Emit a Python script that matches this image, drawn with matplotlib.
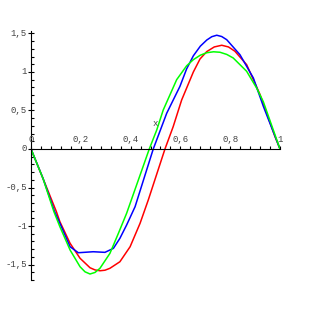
import matplotlib
matplotlib.use("Agg")
import matplotlib.pyplot as plt
import numpy as np

# curve samples
blue_x = [0, 0.048, 0.095, 0.116, 0.157, 0.190, 0.250, 0.297, 0.331, 0.357, 0.384, 0.418,
          0.491, 0.545, 0.598, 0.625, 0.652, 0.680, 0.706, 0.726, 0.746, 0.766, 0.786, 0.839, 0.893, 0.933, 1.0]
blue_y = [0, -0.38, -0.814, -0.965, -1.269, -1.347, -1.334, -1.342, -1.290, -1.160, -0.987, -0.749,
          0.0, 0.464, 0.812, 1.040, 1.210, 1.335, 1.415, 1.458, 1.477, 1.460, 1.419, 1.225, 0.922, 0.555, 0.0]

red_x = [0, 0.048, 0.102, 0.116, 0.157, 0.197, 0.237, 0.257, 0.277, 0.297, 0.317, 0.357, 0.398, 0.438, 0.471,
         0.538, 0.571, 0.605, 0.652, 0.679, 0.706, 0.736, 0.766, 0.793, 0.819, 0.866, 0.920, 0.980, 1.0]
red_y = [0, -0.381, -0.814, -0.944, -1.225, -1.419, -1.542, -1.570, -1.581, -1.574, -1.549, -1.464, -1.269, -0.965, -0.662,
         0.0, 0.29, 0.636, 1.000, 1.170, 1.265, 1.325, 1.347, 1.325, 1.269, 1.095, 0.705, 0.16, 0.0]

green_x = [0, 0.048, 0.092, 0.116, 0.157, 0.197, 0.217, 0.237, 0.257, 0.277, 0.317, 0.351, 0.384, 0.475,
           0.505, 0.531, 0.585, 0.625, 0.652, 0.680, 0.706, 0.733, 0.759, 0.786, 0.812, 0.866, 0.906, 0.933, 1.0]
green_y = [0, -0.381, -0.814, -1.009, -1.312, -1.529, -1.595, -1.623, -1.603, -1.549, -1.355, -1.095, -0.835, 0.0,
           0.247, 0.506, 0.90, 1.08, 1.16, 1.218, 1.25, 1.262, 1.256, 1.228, 1.182, 1.009, 0.792, 0.614, 0.0]

xtick_vals = [0, 0.2, 0.4, 0.6, 0.8, 1]
xtick_text = ["0", "0,2", "0,4", "0,6", "0,8", "1"]
ytick_vals = [1.5, 1, 0.5, 0, -0.5, -1, -1.5]
ytick_text = ["1,5", "1", "0,5", "0", "-0,5", "-1", "-1,5"]

fig = plt.figure(figsize=(3.11, 3.11), dpi=100)
ax = fig.add_axes([31/311, 31/311, 249/311, 249/311])
ax.set_xlim(0, 1)
ax.set_ylim(-1.701, 1.532)

ax.plot(red_x, red_y, color="#ff0000", lw=1.1)
ax.plot(blue_x, blue_y, color="#0000ff", lw=1.1)
ax.plot(green_x, green_y, color="#00ff00", lw=1.1)

for s in ["top", "right"]:
  ax.spines[s].set_visible(False)
ax.spines["bottom"].set_position(("data", 0))
ax.spines["left"].set_position(("data", 0))
ax.spines["bottom"].set_linewidth(0.8)
ax.spines["left"].set_linewidth(0.8)

ax.set_xticks(xtick_vals)
ax.set_xticks(np.arange(0, 1.001, 0.04), minor=True)
ax.set_yticks(ytick_vals)
ax.set_yticks(np.arange(-1.7, 1.55, 0.1), minor=True)
ax.set_xticklabels([])
ax.set_yticklabels([])
ax.tick_params(axis="x", which="both", direction="in", length=2.5, width=0.8)
ax.tick_params(axis="y", which="minor", direction="in", length=2.5, width=0.8)
ax.tick_params(axis="y", which="major", direction="inout", length=4.5, width=0.8)

lab = dict(family="Liberation Mono", fontsize=6.5, color="#444444")
for v, t in zip(xtick_vals, xtick_text):
  ax.annotate(t, xy=(v, 0), xytext=(0, 7), textcoords="offset points",
              ha="center", va="center", **lab)
for v, t in zip(ytick_vals, ytick_text):
  ax.annotate(t, xy=(0, v), xytext=(-3, 0), textcoords="offset points",
              ha="right", va="center", **lab)
ax.text(0.5, 0.325, "x", ha="center", va="center", **lab)

fig.savefig("out.png", dpi=100)
